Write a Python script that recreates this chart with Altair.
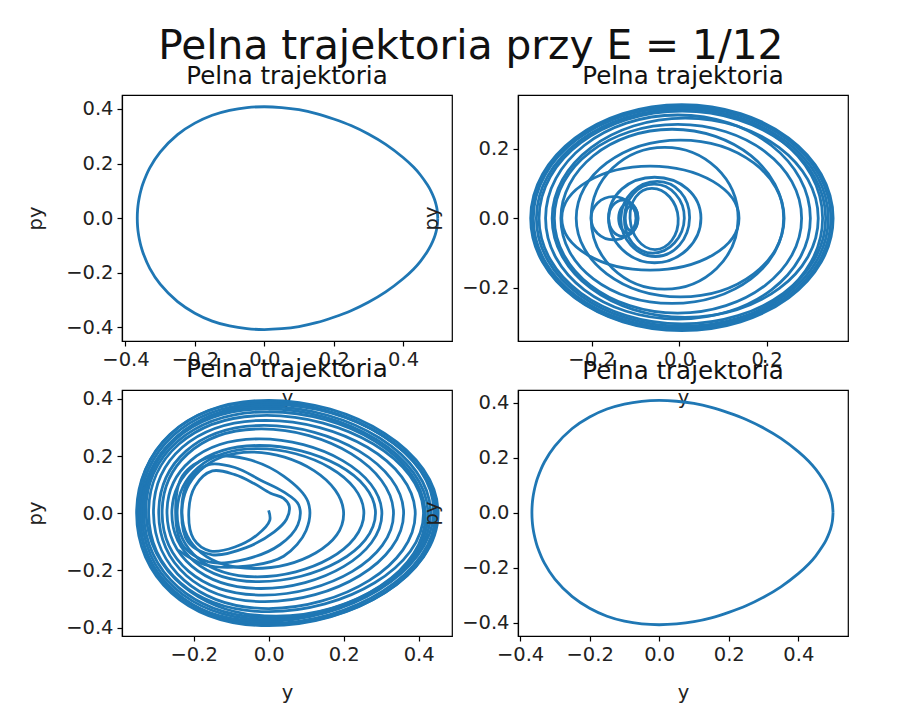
import altair as alt
import pandas as pd

# ---------- Panels 1 and 4: closed orbit (y, py) ----------
orbit_y = [0.500, 0.498, 0.495, 0.490, 0.480, 0.470, 0.450, 0.430, 0.400, 0.350, 0.300, 0.250,
           0.200, 0.150, 0.100, 0.050, 0.000, -0.050, -0.100, -0.150, -0.200, -0.250, -0.300,
           -0.330, -0.350, -0.355, -0.360, -0.363, -0.365, -0.366,
           -0.365, -0.363, -0.360, -0.355, -0.350, -0.330, -0.300, -0.250, -0.200, -0.150,
           -0.100, -0.050, 0.000, 0.050, 0.100, 0.150, 0.200, 0.250, 0.300, 0.350, 0.400,
           0.430, 0.450, 0.470, 0.480, 0.490, 0.495, 0.498, 0.500]
orbit_py = [0.000, 0.032, 0.050, 0.071, 0.100, 0.122, 0.158, 0.187, 0.222, 0.270, 0.308, 0.339,
            0.363, 0.383, 0.397, 0.405, 0.408, 0.405, 0.395, 0.377, 0.348, 0.306, 0.242,
            0.184, 0.125, 0.104, 0.077, 0.055, 0.032, 0.000,
            -0.032, -0.055, -0.077, -0.104, -0.125, -0.184, -0.242, -0.306, -0.348, -0.377,
            -0.395, -0.405, -0.408, -0.405, -0.397, -0.383, -0.363, -0.339, -0.308, -0.270, -0.222,
            -0.187, -0.158, -0.122, -0.100, -0.071, -0.050, -0.032, 0.000]

# ---------- Panel 2: loops (right, top, left, bottom) ----------
p2_loop_x = [
    [0.352, 0.006, -0.339, 0.006],
    [0.347, 0.007, -0.333, 0.007],
    [0.341, 0.008, -0.326, 0.008],
    [0.335, 0.007, -0.320, 0.007],
    [0.328, -0.003, -0.337, -0.003],
    [0.300, -0.003, -0.305, -0.003],
    [0.318, 0.014, -0.290, 0.014],
    [0.280, -0.003, -0.285, -0.003],
    [0.239, -0.016, -0.270, -0.016],
    [0.240, 0.003, -0.235, 0.003],
    [0.137, -0.066, -0.268, -0.066],
    [0.135, -0.033, -0.201, -0.033],
    [0.050, -0.056, -0.161, -0.056],
    [0.012, -0.057, -0.125, -0.060],
    [-0.002, -0.062, -0.112, -0.055],
    [0.024, -0.050, -0.133, -0.054],
    [-0.098, -0.150, -0.201, -0.150],
    [-0.094, -0.128, -0.161, -0.128],
    [-0.094, -0.116, -0.138, -0.116],
    [-0.098, -0.111, -0.123, -0.111],
]
p2_loop_py = [
    [0.0, 0.327, 0.0, -0.323],
    [0.0, 0.321, 0.0, -0.317],
    [0.0, 0.314, 0.0, -0.311],
    [0.0, 0.308, 0.0, -0.304],
    [0.0, 0.318, 0.0, -0.320],
    [0.0, 0.297, 0.0, -0.290],
    [0.0, 0.288, 0.0, -0.285],
    [0.0, 0.270, 0.0, -0.273],
    [0.0, 0.256, 0.0, -0.245],
    [0.0, 0.225, 0.0, -0.226],
    [0.0, 0.150, 0.0, -0.149],
    [0.0, 0.204, 0.0, -0.204],
    [0.0, 0.118, 0.0, -0.128],
    [0.0, 0.098, 0.0, -0.100],
    [0.0, 0.086, 0.0, -0.090],
    [0.0, 0.106, 0.0, -0.110],
    [0.0, 0.062, 0.0, -0.062],
    [0.0, 0.052, 0.0, -0.052],
    [0.0, 0.043, 0.0, -0.043],
    [0.0, 0.035, 0.0, -0.035],
]

# ---------- Panel 3: egg-shaped loops (right, top, left, bottom) ----------
p3_loop_x = [
    [0.452, 0.000, -0.352, 0.000],
    [0.448, -0.010, -0.348, 0.010],
    [0.445, 0.000, -0.345, 0.000],
    [0.440, 0.010, -0.342, -0.010],
    [0.432, 0.000, -0.338, 0.000],
    [0.425, -0.005, -0.333, 0.005],
    [0.418, 0.000, -0.327, 0.020],
    [0.413, -0.005, -0.320, 0.000],
    [0.391, -0.007, -0.307, 0.000],
    [0.360, -0.012, -0.293, -0.010],
    [0.333, -0.019, -0.284, -0.015],
    [0.302, -0.025, -0.271, -0.020],
    [0.285, -0.025, -0.258, -0.025],
    [0.254, -0.030, -0.244, -0.030],
    [0.200, -0.046, -0.231, -0.040],
]
p3_loop_py = [
    [0.0, 0.395, 0.0, -0.393],
    [0.0, 0.390, 0.0, -0.388],
    [0.0, 0.385, 0.0, -0.385],
    [0.0, 0.380, 0.0, -0.378],
    [0.0, 0.372, 0.0, -0.372],
    [0.0, 0.365, 0.0, -0.365],
    [0.0, 0.355, 0.0, -0.360],
    [0.0, 0.342, 0.0, -0.344],
    [0.0, 0.325, 0.0, -0.333],
    [0.0, 0.307, 0.0, -0.309],
    [0.0, 0.295, 0.0, -0.286],
    [0.0, 0.260, 0.0, -0.263],
    [0.0, 0.237, 0.0, -0.239],
    [0.0, 0.226, 0.0, -0.222],
    [0.0, 0.214, 0.0, -0.193],
]
# inner start of the trajectory in panel 3
p3_inner_x = [0.000, 0.003, -0.030, -0.090, -0.155, -0.200, -0.213, -0.196, -0.150, -0.090, -0.040,
              0.005, 0.040, 0.055, 0.048, 0.015, -0.060, -0.150, -0.215, -0.232, -0.215, -0.160,
              -0.090, -0.020, 0.040, 0.080, 0.078, 0.030, -0.060, -0.160, -0.230, -0.248, -0.230,
              -0.160, -0.060, 0.040, 0.105, 0.100, 0.040, -0.060, -0.170, -0.240]
p3_inner_py = [0.010, -0.025, -0.075, -0.118, -0.132, -0.090, 0.000, 0.095, 0.148, 0.135, 0.105,
               0.070, 0.052, 0.025, -0.020, -0.065, -0.120, -0.145, -0.100, 0.000, 0.110, 0.170,
               0.160, 0.115, 0.075, 0.030, -0.040, -0.110, -0.160, -0.170, -0.110, 0.000, 0.130,
               0.195, 0.190, 0.130, 0.040, -0.060, -0.150, -0.185, -0.180, -0.130]

BLUE = "#1f77b4"
LW = 2.8
W, H = 330, 246
LABEL = "replace(format(datum.value, '.1f'), '-', '\u2212')"


def loops_df(xs_list, ys_list):
    rows = []
    for k, (xs, ys) in enumerate(zip(xs_list, ys_list)):
        for i, (x, y) in enumerate(zip(xs, ys)):
            rows.append({"loop": k, "i": i, "x": x, "py": y})
    return pd.DataFrame(rows)


def path_df(xs, ys):
    return pd.DataFrame({"i": list(range(len(xs))), "x": xs, "py": ys})


def enc(xdom, xticks, ydom, yticks):
    return dict(
        x=alt.X("x:Q", scale=alt.Scale(domain=xdom, nice=False, zero=False),
                axis=alt.Axis(values=xticks, labelExpr=LABEL, title="y")),
        y=alt.Y("py:Q", scale=alt.Scale(domain=ydom, nice=False, zero=False),
                axis=alt.Axis(values=yticks, labelExpr=LABEL, title="py")),
    )


def title():
    return alt.TitleParams("Pelna trajektoria", fontSize=24.5, fontWeight="normal",
                           anchor="middle", offset=6, color="#111")


def orbit_panel(xdom, xticks, ydom, yticks):
    return alt.Chart(path_df(orbit_y, orbit_py)).mark_line(
        interpolate="catmull-rom", color=BLUE, strokeWidth=LW, clip=True
    ).encode(order="i:Q", **enc(xdom, xticks, ydom, yticks)).properties(
        width=W, height=H, title=title())


p1 = orbit_panel([-0.410, 0.541], [-0.4, -0.2, 0.0, 0.2, 0.4],
                 [-0.450, 0.451], [-0.4, -0.2, 0.0, 0.2, 0.4])

p2 = alt.Chart(loops_df(p2_loop_x, p2_loop_py)).mark_line(
    interpolate="cardinal-closed", tension=-0.657, color=BLUE, strokeWidth=LW, clip=True
).encode(detail="loop:N", order="i:Q",
         **enc([-0.368, 0.386], [-0.2, 0.0, 0.2], [-0.353, 0.3545], [-0.2, 0.0, 0.2])
).properties(width=W, height=H, title=title())

e3 = enc([-0.391, 0.489], [-0.2, 0.0, 0.2, 0.4], [-0.429, 0.431], [-0.4, -0.2, 0.0, 0.2, 0.4])
p3_loops = alt.Chart(loops_df(p3_loop_x, p3_loop_py)).mark_line(
    interpolate="cardinal-closed", tension=-0.657, color=BLUE, strokeWidth=LW, clip=True
).encode(detail="loop:N", order="i:Q", **e3)
p3_inner = alt.Chart(path_df(p3_inner_x, p3_inner_py)).mark_line(
    interpolate="catmull-rom", color=BLUE, strokeWidth=LW, clip=True
).encode(order="i:Q", **e3)
p3 = alt.layer(p3_loops, p3_inner).properties(width=W, height=H, title=title())

p4 = orbit_panel([-0.406, 0.543], [-0.4, -0.2, 0.0, 0.2, 0.4],
                 [-0.449, 0.446], [-0.4, -0.2, 0.0, 0.2, 0.4])

chart = alt.concat(p1, p2, p3, p4, columns=2, spacing={"row": 49, "column": 66},
                   bounds="flush").properties(
    title=alt.TitleParams("Pelna trajektoria przy E = 1/12", fontSize=40.7,
                          fontWeight="normal", anchor="middle", color="#111", offset=4,
                          dx=34, dy=9),
    padding={"left": 17, "top": 18, "right": 10, "bottom": 10},
).configure(font="DejaVu Sans", background="white").configure_view(
    stroke="black", strokeWidth=1.2
).configure_axis(
    grid=False, domainColor="black", domainWidth=1.2, tickColor="black", tickSize=5,
    tickWidth=1.2, labelFontSize=19.5, labelColor="#222", labelPadding=4,
    titleFontSize=19.5, titleFontWeight="normal", titleColor="#222", titlePadding=20,
    labelFlush=False, labelOverlap=False
)

chart.save("out.html", embed_options={"renderer": "svg", "actions": False})
